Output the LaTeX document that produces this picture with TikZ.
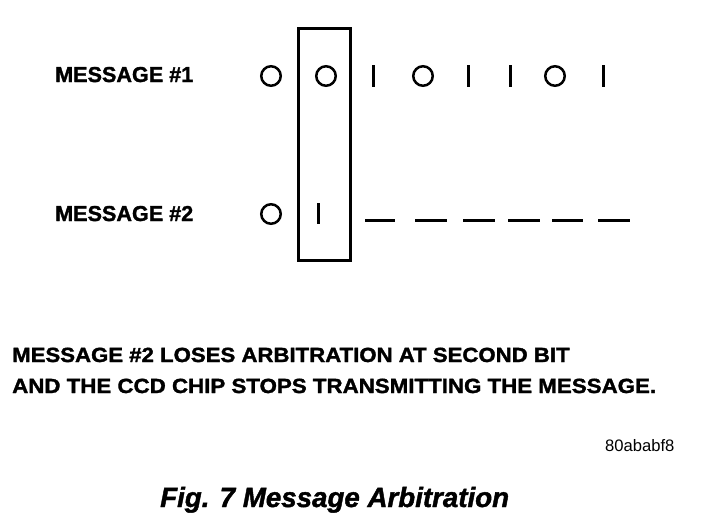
\documentclass[tikz,border=0pt]{standalone}
\usepackage{fontspec}
\setmainfont{Liberation Sans}[BoldFeatures={FakeBold=1.5},BoldItalicFeatures={FakeBold=1.5}]
\begin{document}
\begin{tikzpicture}[x=1pt,y=-1pt,
  lbl/.style={anchor=base west,inner sep=0pt,font=\fontsize{21.6}{24}\selectfont\bfseries},
  note/.style={anchor=base west,inner sep=0pt,font=\fontsize{20.5}{24}\selectfont\bfseries},
  zero/.style={circle,draw,line width=2.5pt,minimum size=19.5pt,inner sep=0pt},
  one/.style={line width=3pt},
  gone/.style={line width=3pt},
  win/.style={draw,line width=3pt}]
\useasboundingbox (0,0) rectangle (704,522);
\node[lbl] (m1) at (55,82) {MESSAGE \#1};
\node[lbl] (m2) at (55,221) {MESSAGE \#2};
% window box
\draw[win] (298,28) rectangle (350,260);
% message 1 bits
\node[zero] (a1) at (271,76) {};
\node[zero] (a2) at (326,76) {};
\draw[one] (373,65) -- (373,87);
\node[zero] (a4) at (423,76) {};
\draw[one] (468,65) -- (468,87);
\draw[one] (510,65) -- (510,87);
\node[zero] (a7) at (555,76) {};
\draw[one] (603,65) -- (603,87);
% message 2 bits
\node[zero] (b1) at (271,214) {};
\draw[one] (318,203) -- (318,224);
\foreach \s/\e in {365/395,415/447,463/495,508/540,552/583,598/630}
  \draw[gone] (\s,220) -- (\e,220);
\node[note] (t1) at (12,362) {\scalebox{1.082}[1]{MESSAGE \#2 LOSES ARBITRATION AT SECOND BIT}};
\node[note] (t2) at (12,393) {\scalebox{1.088}[1]{AND THE CCD CHIP STOPS TRANSMITTING THE MESSAGE.}};
\node[anchor=base west,inner sep=0pt,font=\fontsize{16.6}{18}\selectfont] (id) at (605,451) {80ababf8};
\node[anchor=base west,inner sep=0pt,font=\fontsize{27.7}{30}\selectfont\bfseries\itshape] (cap) at (160,507) {Fig. 7 Message Arbitration};
\end{tikzpicture}
\end{document}
